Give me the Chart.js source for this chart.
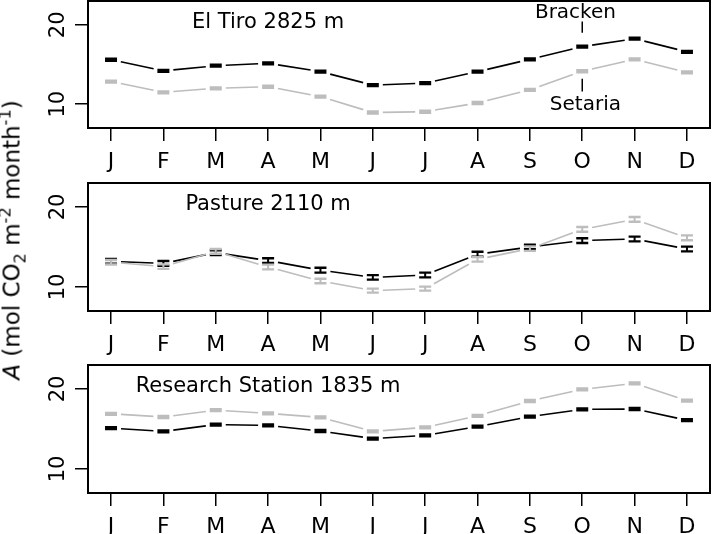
<!DOCTYPE html>
<html>
<head>
<meta charset="utf-8">
<script src="https://cdn.jsdelivr.net/npm/chart.js@4.4.1/dist/chart.umd.min.js"></script>
<style>
    body { margin: 0; background: #fff; }
    #wrap { position: relative; width: 712px; height: 534px; overflow: hidden; }
    canvas { position: absolute; left: 0; }
    #ylab {
        position: absolute; left: 12px; top: 240px;
        transform: translate(-50%, -50%) rotate(-90deg);
        white-space: nowrap; font: 23px 'DejaVu Sans'; color: #000; line-height: 1;
    }
    #ylab sub, #ylab sup { font-size: 70%; line-height: 0; }
</style>
</head>
<body>
<div id="wrap">
    <canvas id="panel_tiro" width="712" height="180" style="top:0"></canvas>
    <canvas id="panel_pasture" width="712" height="180" style="top:180px"></canvas>
    <canvas id="panel_station" width="712" height="174" style="top:360px"></canvas>
    <div id="ylab"><i>A</i> (mol CO<sub>2</sub> m<sup>-2</sup> month<sup>-1</sup>)</div>
</div>
<script>
/* month labels and tick values */
const months = ['J', 'F', 'M', 'A', 'M', 'J', 'J', 'A', 'S', 'O', 'N', 'D'];
const y_ticks = [10, 20];

/* El Tiro 2825 m */
const tiro_bracken = [15.6, 14.2, 14.85, 15.15, 14.1, 12.4, 12.65, 14.1, 15.65, 17.25, 18.25, 16.6];
const tiro_setaria = [12.85, 11.5, 12.0, 12.2, 10.95, 8.95, 9.05, 10.15, 11.8, 14.15, 15.65, 14.0];
const tiro_err_b   = [0.12, 0.12, 0.12, 0.12, 0.12, 0.12, 0.12, 0.12, 0.12, 0.12, 0.12, 0.12];
const tiro_err_s   = [0.12, 0.12, 0.12, 0.12, 0.12, 0.12, 0.12, 0.12, 0.12, 0.12, 0.12, 0.12];

/* Pasture 2110 m */
const pasture_bracken = [13.2, 12.95, 14.3, 13.3, 12.1, 11.2, 11.5, 14.1, 15.0, 15.8, 16.0, 14.75];
const pasture_setaria = [13.1, 12.55, 14.45, 12.5, 10.75, 9.55, 9.8, 13.45, 14.8, 17.2, 18.45, 16.15];
const pasture_err_b   = [0.3, 0.3, 0.3, 0.3, 0.3, 0.28, 0.3, 0.3, 0.28, 0.3, 0.3, 0.3];
const pasture_err_s   = [0.28, 0.28, 0.3, 0.3, 0.28, 0.25, 0.25, 0.28, 0.28, 0.3, 0.3, 0.3];

/* Research Station 1835 m */
const station_bracken = [15.1, 14.7, 15.55, 15.45, 14.75, 13.8, 14.2, 15.3, 16.55, 17.45, 17.5, 16.1];
const station_setaria = [16.9, 16.5, 17.35, 16.95, 16.45, 14.7, 15.2, 16.65, 18.5, 19.95, 20.7, 18.55];
const station_err_b   = [0.12, 0.12, 0.12, 0.12, 0.12, 0.12, 0.12, 0.12, 0.12, 0.12, 0.12, 0.12];
const station_err_s   = [0.12, 0.12, 0.12, 0.12, 0.12, 0.12, 0.12, 0.12, 0.12, 0.12, 0.12, 0.12];

const FONT = "'DejaVu Sans'";
const GREY = '#bdbdbd';
Chart.defaults.font.family = FONT;

/* draws the box, gapped lines, error-bar markers and text of one panel */
const panel_deco = {
    id: 'panel_deco',
    afterDatasetsDraw(chart, args, opts) {
        const ctx = chart.ctx;
        const xs = chart.scales.x, ys = chart.scales.y;
        const area = chart.chartArea;
        ctx.save();

        /* lines with a gap round each point */
        const gap = 10;
        chart.data.datasets.forEach((ds, di) => {
            const pts = chart.getDatasetMeta(di).data;
            ctx.strokeStyle = ds.borderColor;
            ctx.lineWidth = 1.6;
            for (let i = 0; i < pts.length - 1; i++) {
                const p = pts[i], q = pts[i + 1];
                const dx = q.x - p.x, dy = q.y - p.y;
                const len = Math.hypot(dx, dy);
                if (len <= 2 * gap) continue;
                const ux = dx / len, uy = dy / len;
                ctx.beginPath();
                ctx.moveTo(p.x + ux * gap, p.y + uy * gap);
                ctx.lineTo(q.x - ux * gap, q.y - uy * gap);
                ctx.stroke();
            }
        });

        /* error bars drawn as caps */
        chart.data.datasets.forEach((ds, di) => {
            const pts = chart.getDatasetMeta(di).data;
            ctx.strokeStyle = ds.borderColor;
            pts.forEach((p, i) => {
                const v = ds.data[i].y, e = ds.err[i];
                const y1 = ys.getPixelForValue(v + e), y2 = ys.getPixelForValue(v - e);
                ctx.lineWidth = 2.4;
                ctx.beginPath();
                ctx.moveTo(p.x - 6, y1); ctx.lineTo(p.x + 6, y1);
                ctx.moveTo(p.x - 6, y2); ctx.lineTo(p.x + 6, y2);
                ctx.stroke();
                ctx.lineWidth = 2;
                ctx.beginPath();
                ctx.moveTo(p.x, y1); ctx.lineTo(p.x, y2);
                ctx.stroke();
            });
        });

        /* box */
        ctx.strokeStyle = '#000';
        ctx.lineWidth = 2;
        ctx.strokeRect(area.left, area.top, area.right - area.left, area.bottom - area.top);

        /* rotated y tick labels */
        ctx.fillStyle = '#000';
        ctx.font = `21px ${FONT}`;
        ctx.textAlign = 'center';
        ctx.textBaseline = 'alphabetic';
        y_ticks.forEach(t => {
            ctx.save();
            ctx.translate(64, ys.getPixelForValue(t));
            ctx.rotate(-Math.PI / 2);
            ctx.fillText(String(t), 0, 0);
            ctx.restore();
        });

        /* panel title */
        ctx.font = `21px ${FONT}`;
        ctx.fillText(opts.title, xs.getPixelForValue(4), ys.getPixelForValue(19.6));

        /* species labels with leader lines */
        if (opts.labels) {
            ctx.font = `20px ${FONT}`;
            ctx.lineWidth = 1.5;
            ctx.fillText('Bracken', xs.getPixelForValue(9.87), ys.getPixelForValue(20.88));
            ctx.fillText('Setaria', xs.getPixelForValue(10.06), ys.getPixelForValue(9.3));
            const lx = xs.getPixelForValue(10);
            ctx.beginPath();
            ctx.moveTo(lx, ys.getPixelForValue(20.42)); ctx.lineTo(lx, ys.getPixelForValue(19.0));
            ctx.moveTo(lx, ys.getPixelForValue(13.2)); ctx.lineTo(lx, ys.getPixelForValue(11.6));
            ctx.stroke();
        }
        ctx.restore();
    }
};

/* builds one panel */
function crear_panel(id, bracken, setaria, err_b, err_s, title, pad_top, x_axis_h, labels) {
    const to_pts = arr => arr.map((v, i) => ({ x: i + 1, y: v }));
    return new Chart(document.getElementById(id), {
        type: 'scatter',
        data: {
            datasets: [
                { label: 'Bracken', data: to_pts(bracken), err: err_b, borderColor: '#000', pointRadius: 0, showLine: false },
                { label: 'Setaria', data: to_pts(setaria), err: err_s, borderColor: GREY, pointRadius: 0, showLine: false }
            ]
        },
        options: {
            responsive: false,
            animation: false,
            layout: { padding: { left: 0, right: 2, top: pad_top, bottom: 0 } },
            scales: {
                x: {
                    type: 'linear', min: 0.56, max: 12.44,
                    afterBuildTicks: s => { s.ticks = months.map((m, i) => ({ value: i + 1 })); },
                    afterFit: s => { s.height = x_axis_h; },
                    ticks: {
                        callback: (v, i) => months[i],
                        color: '#000', font: { size: 22 }, padding: 8,
                        maxRotation: 0, autoSkip: false
                    },
                    grid: { drawOnChartArea: false, drawTicks: true, tickLength: 13, color: '#000', lineWidth: 1.5 },
                    border: { display: false }
                },
                y: {
                    min: 7, max: 23,
                    afterBuildTicks: s => { s.ticks = y_ticks.map(v => ({ value: v })); },
                    afterFit: s => { s.width = 88; },
                    ticks: { display: false },
                    grid: { drawOnChartArea: false, drawTicks: true, tickLength: 13, color: '#000', lineWidth: 1.5 },
                    border: { display: false }
                }
            },
            plugins: {
                legend: { display: false },
                tooltip: { enabled: false },
                panel_deco: { title: title, labels: labels }
            }
        },
        plugins: [panel_deco]
    });
}

crear_panel('panel_tiro', tiro_bracken, tiro_setaria, tiro_err_b, tiro_err_s, 'El Tiro 2825 m', 1, 52, true);
crear_panel('panel_pasture', pasture_bracken, pasture_setaria, pasture_err_b, pasture_err_s, 'Pasture 2110 m', 3, 49, false);
crear_panel('panel_station', station_bracken, station_setaria, station_err_b, station_err_s, 'Research Station 1835 m', 5, 41, false);
</script>
</body>
</html>
